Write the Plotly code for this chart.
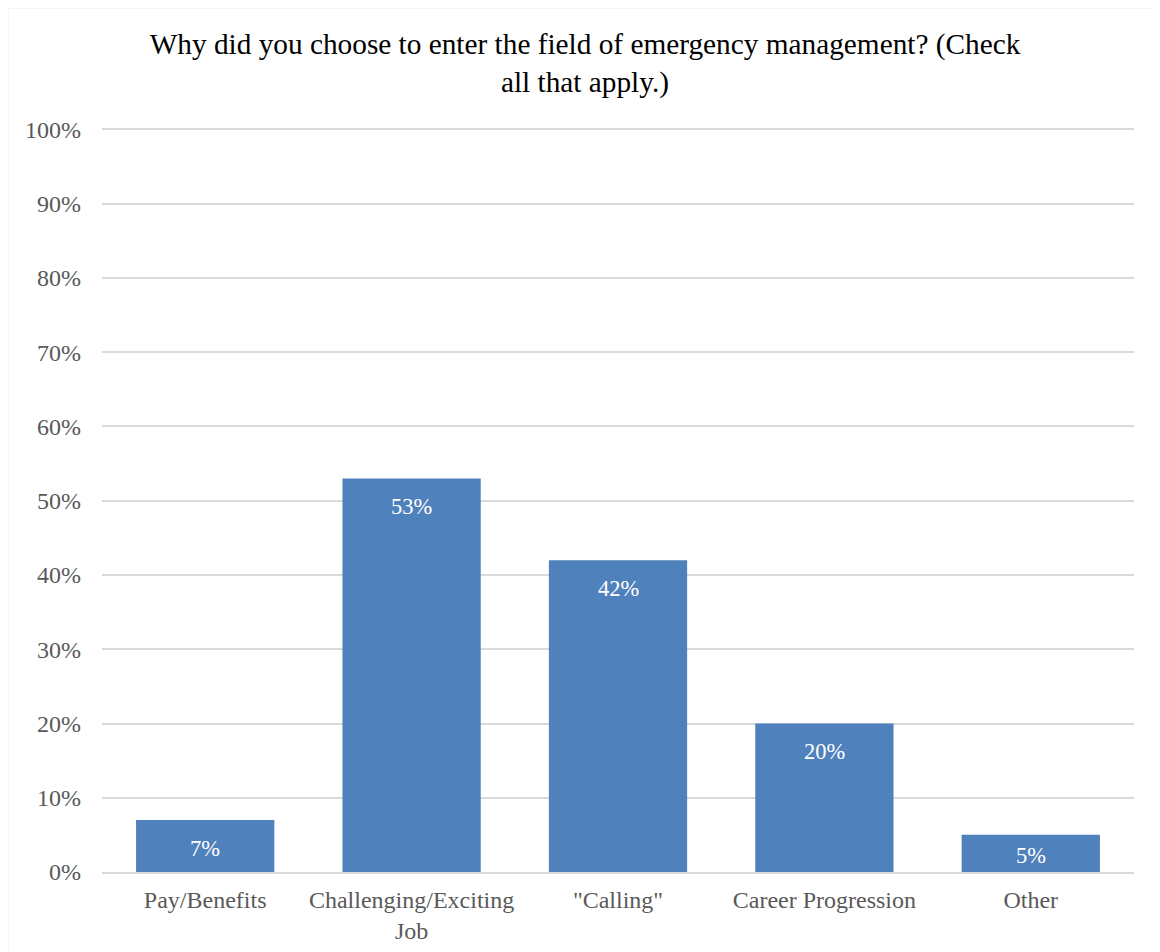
import plotly.graph_objects as go

categories = ["Pay/Benefits", "Challenging/Exciting<br>Job", "\"Calling\"", "Career Progression", "Other"]
values = [0.07, 0.53, 0.42, 0.20, 0.05]
labels = ["7%", "53%", "42%", "20%", "5%"]
tick_vals = [i / 10 for i in range(11)]
tick_text = [f"{i*10}%" for i in range(11)]
title_text = "Why did you choose to enter the field of emergency management? (Check<br>all that apply.)"

FONT = "Liberation Serif"

# page body has an 8px margin; lay out in figure coordinates
OFF = 8
W, H = 1144, 944
L, R, T, B = 102 - OFF, 18, 128 - OFF, 80
pw, ph = W - L - R, H - T - B

fig = go.Figure()
fig.add_trace(go.Bar(
    x=categories, y=values,
    marker=dict(color="#4F81BD", line=dict(width=0)),
    hoverinfo="skip",
))

for c, v, t in zip(categories, values, labels):
    shift = -min(28, v * ph / 2 + 2)
    fig.add_annotation(x=c, y=v, text=t, showarrow=False, yshift=shift,
                       font=dict(family=FONT, size=22.5, color="white"))

def px_to_paper_x(px):
    return (px - OFF - L) / pw

def px_to_paper_y(py):
    return (H - B - (py - OFF)) / ph

fig.add_shape(type="rect", xref="paper", yref="paper",
              x0=px_to_paper_x(7.5), x1=px_to_paper_x(1250),
              y0=px_to_paper_y(1100), y1=px_to_paper_y(7.5),
              line=dict(color="#D9D9D9", width=1.5), layer="below")

fig.update_layout(
    width=W, height=H,
    margin=dict(l=L, r=R, t=T, b=B, autoexpand=False),
    paper_bgcolor="white", plot_bgcolor="white",
    bargap=0.33,
    showlegend=False,
    title=dict(text=title_text, x=(585 - OFF) / W, xref="container", xanchor="center",
               y=1 - (54 - OFF) / H, yref="container", yanchor="top",
               font=dict(family=FONT, size=29.3, color="black")),
    font=dict(family=FONT, size=24, color="#595959"),
)
fig.update_yaxes(range=[0, 1.002], tickvals=tick_vals, ticktext=tick_text,
                 showgrid=True, gridcolor="#D9D9D9", gridwidth=1.5,
                 zeroline=False, showline=False, ticks="", ticklen=0,
                 ticklabelstandoff=20, automargin=False,
                 tickfont=dict(family=FONT, size=24, color="#595959"))
fig.update_xaxes(showline=True, linecolor="#D9D9D9", linewidth=1.5, ticks="",
                 ticklabelstandoff=5, automargin=False,
                 tickfont=dict(family=FONT, size=24, color="#595959"))

fig.write_html("out.html")
